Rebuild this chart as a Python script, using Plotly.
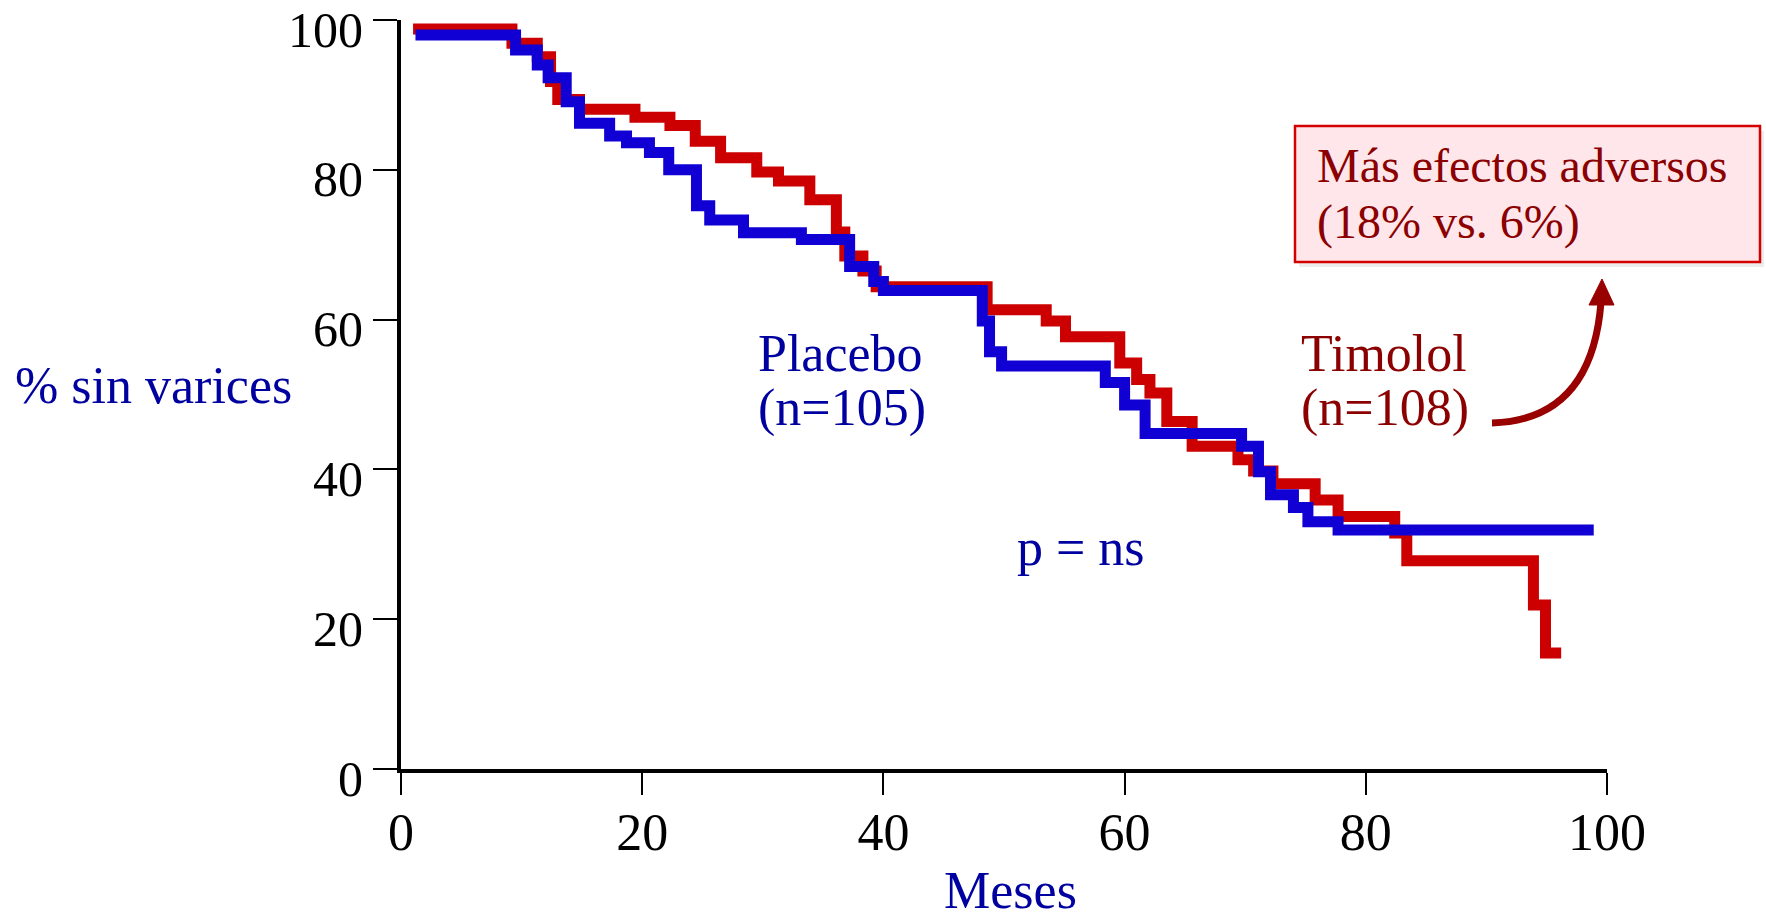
import plotly.graph_objects as go

# Kaplan-Meier curves: each percentage holds from its month until the next month
timolol_months = [1.0, 9.2, 11.3, 12.4, 13.0, 14.8, 19.4, 22.3, 24.4, 26.5, 29.5, 31.3,
                  33.9, 36.1, 36.8, 38.3, 39.4, 48.6, 53.5, 55.1, 59.6, 61.0, 62.1, 63.5,
                  65.6, 69.4, 70.7, 72.3, 75.8, 77.7, 82.4, 83.4, 93.9, 94.9, 96.2]
timolol_pct = [98.8, 96.9, 95.1, 91.8, 89.4, 88.1, 87.0, 85.9, 83.8, 81.6, 79.7, 78.5,
               76.0, 71.7, 68.5, 66.5, 64.4, 61.3, 59.8, 57.7, 54.2, 52.0, 50.2, 46.4,
               43.1, 41.3, 39.8, 38.1, 35.9, 33.7, 31.5, 27.8, 21.9, 15.5, 15.5]

placebo_months = [1.2, 9.5, 11.3, 12.2, 13.7, 14.8, 17.3, 18.7, 20.6, 22.2, 24.5, 25.6,
                  28.4, 33.2, 37.2, 39.2, 40.0, 48.2, 48.8, 49.8, 58.4, 60.0, 61.7, 69.7,
                  71.1, 72.1, 74.0, 75.2, 77.7, 98.9]
placebo_pct = [98.0, 96.0, 94.0, 92.3, 89.1, 86.2, 84.5, 83.6, 82.3, 80.0, 75.2, 73.3,
               71.6, 70.7, 67.1, 65.1, 63.9, 59.8, 55.7, 53.8, 51.6, 48.6, 44.8, 43.1,
               39.7, 36.6, 34.9, 33.0, 31.9, 31.9]

x_ticks = [0, 20, 40, 60, 80, 100]
y_ticks = [0, 20, 40, 60, 80, 100]

W, H = 1766, 921
L, R, T, B = 401, 159, 20, 152
PW = W - L - R
PH = H - T - B

SERIF = "Liberation Serif, Times New Roman, serif"
RED = "#cc0000"
BLUE = "#1100d4"
NAVY = "#0000a0"
MAROON = "#8b0000"


def px_x(px):
    return (px - L) / PW


def px_y(py):
    return (H - B - py) / PH


def label(text, left, baseline, size, color):
    # place a line of text by its left edge and baseline (in pixels)
    return dict(
        text=text, xref="paper", yref="paper", showarrow=False,
        x=px_x(left), y=px_y(baseline - 0.3375 * size),
        xanchor="left", yanchor="middle",
        font=dict(family=SERIF, size=size, color=color),
    )


fig = go.Figure()
fig.add_trace(go.Scatter(
    x=timolol_months, y=timolol_pct, mode="lines", name="Timolol",
    line=dict(shape="hv", width=11, color=RED),
))
fig.add_trace(go.Scatter(
    x=placebo_months, y=placebo_pct, mode="lines", name="Placebo",
    line=dict(shape="hv", width=11, color=BLUE),
))

axis_common = dict(
    showline=True, linewidth=4, linecolor="black",
    ticks="outside", tickwidth=2, tickcolor="black",
    ticklabeloverflow="allow",
    showgrid=False, zeroline=False, fixedrange=True,
)
fig.update_xaxes(range=[0, 100], tickvals=x_ticks, ticklen=22,
                 tickfont=dict(family=SERIF, size=52, color="black"),
                 ticklabelstandoff=-7, **axis_common)
fig.update_yaxes(range=[0, 100], tickvals=y_ticks, ticklen=24,
                 tickfont=dict(family=SERIF, size=50, color="black"),
                 ticklabelstandoff=0, ticklabelshift=9, **axis_common)

meses = dict(
    text="Meses", xref="paper", yref="paper", showarrow=False,
    x=px_x(942), y=px_y(H), xanchor="left", yanchor="bottom",
    font=dict(family=SERIF, size=52, color=NAVY),
)

annotations = [
    label("% sin varices", 13, 403, 52, NAVY),
    meses,
    label("Placebo", 756, 371, 52, NAVY),
    label("(n=105)", 756, 426, 52, NAVY),
    label("Timolol", 1299, 371, 52, MAROON),
    label("(n=108)", 1299, 426, 52, MAROON),
    label("p = ns", 1015, 565, 52, NAVY),
    label("Más efectos adversos", 1315, 182, 48, MAROON),
    label("(18% vs. 6%)", 1315, 238, 48, MAROON),
]

# note box with a faint drop shadow, plus the curved arrow pointing at it
box_l, box_t, box_r, box_b = 1295, 126, 1760, 262
shapes = [
    dict(type="rect", xref="paper", yref="paper",
         x0=px_x(box_l + 4), x1=px_x(box_r + 4), y0=px_y(box_b + 5), y1=px_y(box_t + 5),
         fillcolor="rgba(0,0,0,0.07)", line=dict(width=0), layer="above"),
    dict(type="rect", xref="paper", yref="paper",
         x0=px_x(box_l), x1=px_x(box_r), y0=px_y(box_b), y1=px_y(box_t),
         fillcolor="#ffe6ea", line=dict(color="#d40000", width=2.5), layer="above"),
]

sx, sy = 1492, 423
cx, cy = 1592, 420
ex, ey = 1601, 302
arrow_path = (f"M {px_x(sx)},{px_y(sy)} Q {px_x(cx)},{px_y(cy)} {px_x(ex)},{px_y(ey)}")
shapes.append(dict(type="path", xref="paper", yref="paper", path=arrow_path,
                   line=dict(color="#990000", width=7)))
head = (f"M {px_x(1589)},{px_y(305)} L {px_x(1614)},{px_y(305)} "
        f"L {px_x(1602)},{px_y(279)} Z")
shapes.append(dict(type="path", xref="paper", yref="paper", path=head,
                   fillcolor="#990000", line=dict(color="#990000", width=1)))

fig.update_layout(
    width=W, height=H,
    margin=dict(l=L, r=R, t=T, b=B, autoexpand=False),
    paper_bgcolor="white", plot_bgcolor="white",
    showlegend=False,
    annotations=annotations,
    shapes=shapes,
)

fig.write_html("out.html", config={"displayModeBar": False})
